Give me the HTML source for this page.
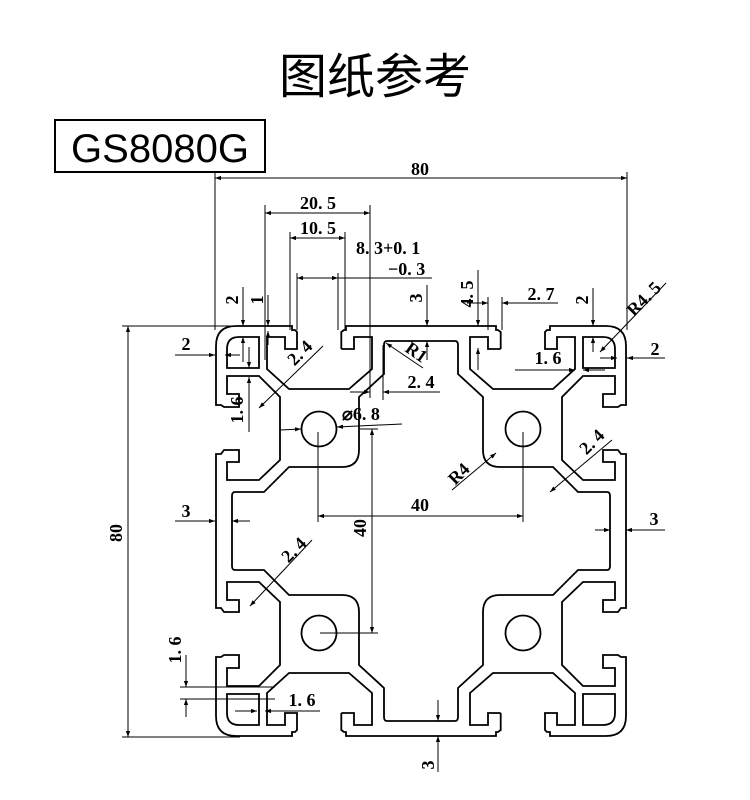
<!DOCTYPE html>
<html><head><meta charset="utf-8"><style>
html,body{margin:0;padding:0;background:#fff}
svg{display:block}
text{font-family:"Liberation Serif","DejaVu Serif",serif;font-weight:bold;font-size:18px;fill:#000}
</style></head><body>
<svg width="750" height="800" viewBox="0 0 750 800" xmlns="http://www.w3.org/2000/svg">
<defs>
<marker id="a" viewBox="0 0 10 10" refX="10" refY="5" markerWidth="9" markerHeight="6" orient="auto-start-reverse" markerUnits="userSpaceOnUse"><path d="M0,1.5 L10,5 L0,8.5 Z" fill="#000"/></marker>
<g id="q" fill="none" stroke="#000" stroke-width="1.8">
<path d="M421,721 L455,721 Q458,721 458,717 L458,688 L483,665 L483,612 Q483,595 500,595 L553,595 L578,570 L607,570 Q610,570 610,566 L610,531"/>
<path d="M500.7,713 L488,713 L488,725 L470,725 L470,693 L493,673 L553,673 L575,693 L575,725 L557,725 L557,713 L545,713 L545,730 L547,732 L550,732 L550,736 L606,736 Q626,736 626,716 L626,657 L621,657 L618,655 L603,655 L603,668 L615,668 L615,686 L583,686 L562,665 L562,602 L583,582 L615,582 L615,600 L603,600 L603,612 L618,612 L621,608 L626,608 L626,531"/>
<path d="M500.7,713 L500.7,730 L498,732 L496,732 L496,736 L421,736"/>
<path d="M583,694 L615,694 L615,713 Q615,725 603,725 L583,725 Z"/>
<circle cx="523" cy="633" r="17.5"/>
</g>
</defs>
<text x="375" y="93" text-anchor="middle" style="font-family:'Noto Sans CJK SC',sans-serif;font-weight:normal;font-size:48px">图纸参考</text>
<rect x="55" y="120" width="210" height="52" fill="none" stroke="#000" stroke-width="2"/>
<text x="160" y="162" text-anchor="middle" style="font-family:'Liberation Sans',sans-serif;font-weight:normal;font-size:40px">GS8080G</text>

<use href="#q"/>
<use href="#q" transform="matrix(-1,0,0,1,842,0)"/>
<use href="#q" transform="matrix(1,0,0,-1,0,1062)"/>
<use href="#q" transform="matrix(-1,0,0,-1,842,1062)"/>

<g stroke="#000" stroke-width="1" fill="none">
<line x1="215" y1="172" x2="215" y2="330"/><line x1="627" y1="172" x2="627" y2="330"/>
<line x1="215" y1="178" x2="627" y2="178" marker-start="url(#a)" marker-end="url(#a)"/>
<line x1="265" y1="205" x2="265" y2="360"/><line x1="370" y1="205" x2="370" y2="398"/>
<line x1="265" y1="213" x2="370" y2="213" marker-start="url(#a)" marker-end="url(#a)"/>
<line x1="290" y1="232" x2="290" y2="330"/><line x1="345" y1="232" x2="345" y2="330"/>
<line x1="290" y1="238" x2="345" y2="238" marker-start="url(#a)" marker-end="url(#a)"/>
<line x1="297" y1="273" x2="297" y2="330"/><line x1="338" y1="273" x2="338" y2="330"/>
<line x1="297" y1="278" x2="338" y2="278" marker-start="url(#a)" marker-end="url(#a)"/>
<line x1="338" y1="278" x2="432" y2="278"/>
<line x1="427" y1="285" x2="427" y2="326" marker-end="url(#a)"/><line x1="427" y1="341" x2="427" y2="360" marker-start="url(#a)"/>
<line x1="478" y1="270" x2="478" y2="326" marker-end="url(#a)"/><line x1="478" y1="348" x2="478" y2="370" marker-start="url(#a)"/>
<line x1="488" y1="297" x2="488" y2="330"/><line x1="502" y1="297" x2="502" y2="330"/>
<line x1="467" y1="303" x2="488" y2="303" marker-end="url(#a)"/><line x1="502" y1="303" x2="558" y2="303" marker-start="url(#a)"/>
<line x1="243" y1="287" x2="243" y2="326" marker-end="url(#a)"/><line x1="243" y1="337" x2="243" y2="362" marker-start="url(#a)"/>
<line x1="268" y1="295" x2="268" y2="326" marker-end="url(#a)"/><line x1="268" y1="331" x2="268" y2="345" marker-start="url(#a)"/>
<line x1="593" y1="288" x2="593" y2="326" marker-end="url(#a)"/><line x1="593" y1="337" x2="593" y2="352" marker-start="url(#a)"/>
<line x1="600" y1="352" x2="666" y2="283" marker-start="url(#a)"/>
<line x1="175" y1="355" x2="215" y2="355" marker-end="url(#a)"/><line x1="225" y1="355" x2="240" y2="355" marker-start="url(#a)"/>
<line x1="600" y1="358" x2="617" y2="358" marker-end="url(#a)"/><line x1="627" y1="358" x2="665" y2="358" marker-start="url(#a)"/>
<line x1="515" y1="370" x2="575" y2="370" marker-end="url(#a)"/><line x1="583" y1="370" x2="605" y2="370" marker-start="url(#a)"/>
<line x1="259" y1="408" x2="323" y2="346" marker-start="url(#a)"/>
<line x1="386" y1="343" x2="423" y2="368" marker-start="url(#a)"/>
<line x1="383" y1="345" x2="383" y2="400"/>
<line x1="350" y1="392" x2="370" y2="392" marker-end="url(#a)"/><line x1="383" y1="392" x2="440" y2="392" marker-start="url(#a)"/>
<line x1="249" y1="347" x2="249" y2="368" marker-end="url(#a)"/><line x1="249" y1="377" x2="249" y2="432" marker-start="url(#a)"/>
<line x1="280" y1="430" x2="301" y2="429" marker-end="url(#a)"/><line x1="337" y1="427" x2="402" y2="424" marker-start="url(#a)"/>
<line x1="360" y1="429" x2="378" y2="429"/><line x1="320" y1="633" x2="378" y2="633"/>
<line x1="372" y1="429" x2="372" y2="633" marker-start="url(#a)" marker-end="url(#a)"/>
<line x1="318" y1="432" x2="318" y2="522"/><line x1="523" y1="432" x2="523" y2="522"/>
<line x1="318" y1="516" x2="523" y2="516" marker-start="url(#a)" marker-end="url(#a)"/>
<line x1="452" y1="490" x2="496" y2="453" marker-end="url(#a)"/>
<line x1="550" y1="492" x2="612" y2="440" marker-start="url(#a)"/>
<line x1="175" y1="521" x2="215" y2="521" marker-end="url(#a)"/><line x1="232" y1="521" x2="250" y2="521" marker-start="url(#a)"/>
<line x1="595" y1="530" x2="610" y2="530" marker-end="url(#a)"/><line x1="626" y1="530" x2="665" y2="530" marker-start="url(#a)"/>
<line x1="122" y1="326" x2="240" y2="326"/><line x1="122" y1="737" x2="240" y2="737"/>
<line x1="128" y1="326" x2="128" y2="737" marker-start="url(#a)" marker-end="url(#a)"/>
<line x1="250" y1="606" x2="312" y2="540" marker-start="url(#a)"/>
<line x1="180" y1="687" x2="275" y2="687"/><line x1="180" y1="699" x2="275" y2="699"/>
<line x1="186" y1="655" x2="186" y2="687" marker-end="url(#a)"/><line x1="186" y1="699" x2="186" y2="717" marker-start="url(#a)"/>
<line x1="235" y1="711" x2="257" y2="711" marker-end="url(#a)"/><line x1="265" y1="711" x2="320" y2="711" marker-start="url(#a)"/>
<line x1="438" y1="700" x2="438" y2="721" marker-end="url(#a)"/><line x1="438" y1="736" x2="438" y2="772" marker-start="url(#a)"/>
</g>

<g>
<text x="420" y="175" text-anchor="middle">80</text>
<text x="318" y="209" text-anchor="middle">20. 5</text>
<text x="318" y="234" text-anchor="middle">10. 5</text>
<text x="356" y="254">8. 3+0. 1</text>
<text x="388" y="275">−0. 3</text>
<text x="541" y="300" text-anchor="middle">2. 7</text>
<text x="186" y="350" text-anchor="middle">2</text>
<text x="655" y="355" text-anchor="middle">2</text>
<text x="548" y="364" text-anchor="middle">1. 6</text>
<text x="421" y="388" text-anchor="middle">2. 4</text>
<text x="342" y="420">⌀6. 8</text>
<text x="420" y="511" text-anchor="middle">40</text>
<text x="186" y="517" text-anchor="middle">3</text>
<text x="654" y="525" text-anchor="middle">3</text>
<text x="302" y="706" text-anchor="middle">1. 6</text>
<text transform="translate(238,300) rotate(-90)" text-anchor="middle">2</text>
<text transform="translate(263,300) rotate(-90)" text-anchor="middle">1</text>
<text transform="translate(422,298) rotate(-90)" text-anchor="middle">3</text>
<text transform="translate(473,294) rotate(-90)" text-anchor="middle">4. 5</text>
<text transform="translate(588,300) rotate(-90)" text-anchor="middle">2</text>
<text transform="translate(648,303) rotate(-45)" text-anchor="middle">R4. 5</text>
<text transform="translate(304,357) rotate(-45)" text-anchor="middle">2. 4</text>
<text transform="translate(413,357) rotate(35)" text-anchor="middle">R1</text>
<text transform="translate(243,410) rotate(-90)" text-anchor="middle">1. 6</text>
<text transform="translate(463,478) rotate(-45)" text-anchor="middle">R4</text>
<text transform="translate(596,446) rotate(-45)" text-anchor="middle">2. 4</text>
<text transform="translate(366,528) rotate(-90)" text-anchor="middle">40</text>
<text transform="translate(122,533) rotate(-90)" text-anchor="middle">80</text>
<text transform="translate(298,554) rotate(-45)" text-anchor="middle">2. 4</text>
<text transform="translate(181,650) rotate(-90)" text-anchor="middle">1. 6</text>
<text transform="translate(434,765) rotate(-90)" text-anchor="middle">3</text>
</g>
</svg>
</body></html>
